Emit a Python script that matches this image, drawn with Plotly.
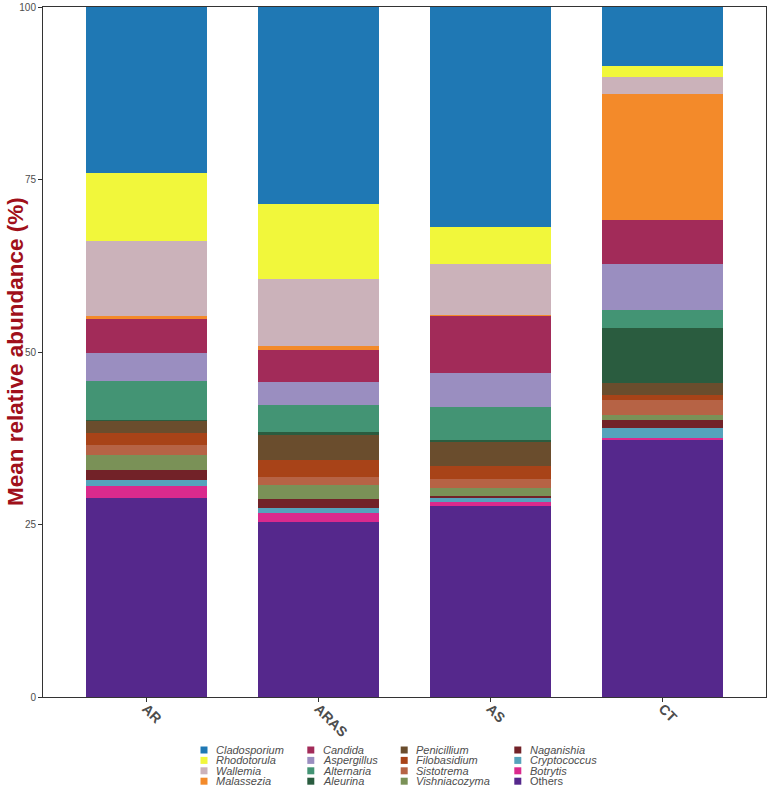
import plotly.graph_objects as go

# ---------------- data ----------------
groups = ["AR", "ARAS", "AS", "CT"]

# stack order, bottom -> top
genera = ["Others", "Botrytis", "Cryptococcus", "Naganishia", "Vishniacozyma",
          "Sistotrema", "Filobasidium", "Penicillium", "Aleurina", "Alternaria",
          "Aspergillus", "Candida", "Malassezia", "Wallemia", "Rhodotorula",
          "Cladosporium"]

Others        = [28.8, 25.3, 27.7, 37.3]
Botrytis      = [1.8, 1.35, 0.6, 0.2]
Cryptococcus  = [0.9, 0.7, 0.6, 1.5]
Naganishia    = [1.4, 1.3, 0.3, 1.15]
Vishniacozyma = [2.2, 2.1, 1.1, 0.65]
Sistotrema    = [1.4, 1.15, 1.25, 2.25]
Filobasidium  = [1.7, 2.4, 1.95, 0.75]
Penicillium   = [1.85, 3.65, 3.6, 1.75]
Aleurina      = [0.1, 0.4, 0.2, 8.0]
Alternaria    = [5.6, 4.0, 4.7, 2.6]
Aspergillus   = [4.15, 3.25, 5.0, 6.6]
Candida       = [4.9, 4.65, 8.25, 6.4]
Malassezia    = [0.4, 0.6, 0.15, 18.3]
Wallemia      = [10.85, 9.75, 7.35, 2.35]
Rhodotorula   = [9.9, 10.85, 5.4, 1.7]
Cladosporium  = [24.05, 28.55, 31.85, 8.5]

values = {
    "Others": Others, "Botrytis": Botrytis, "Cryptococcus": Cryptococcus,
    "Naganishia": Naganishia, "Vishniacozyma": Vishniacozyma,
    "Sistotrema": Sistotrema, "Filobasidium": Filobasidium,
    "Penicillium": Penicillium, "Aleurina": Aleurina, "Alternaria": Alternaria,
    "Aspergillus": Aspergillus, "Candida": Candida, "Malassezia": Malassezia,
    "Wallemia": Wallemia, "Rhodotorula": Rhodotorula,
    "Cladosporium": Cladosporium,
}

colors = {
    "Cladosporium": "#1F78B4", "Rhodotorula": "#F1F73B", "Wallemia": "#CBB2BA",
    "Malassezia": "#F38A2A", "Candida": "#A22B59", "Aspergillus": "#9A8EC0",
    "Alternaria": "#439474", "Aleurina": "#2A5C3F", "Penicillium": "#6A4D2D",
    "Filobasidium": "#A84318", "Sistotrema": "#B66345", "Vishniacozyma": "#7A9157",
    "Naganishia": "#722228", "Cryptococcus": "#55A3BC", "Botrytis": "#DA2A8D",
    "Others": "#55288C",
}

y_ticks = [0, 25, 50, 75, 100]

# ---------------- figure ----------------
W, H = 767, 790
ML, MR, MT, MB = 43, 1, 7, 93
PW, PH = W - ML - MR, H - MT - MB


def px_x(px):
    return (px - ML) / PW


def px_y(py):
    return (H - MB - py) / PH


fig = go.Figure()
for g in genera:
    fig.add_trace(go.Bar(
        x=groups, y=values[g], name=g,
        marker=dict(color=colors[g], line=dict(width=0)),
        width=0.7, showlegend=False,
    ))

fig.update_layout(
    width=W, height=H,
    margin=dict(l=ML, r=MR, t=MT, b=MB),
    barmode="stack",
    plot_bgcolor="white", paper_bgcolor="white",
    font=dict(family="Liberation Sans, Arial, sans-serif", color="#4D4D4D"),
)

fig.update_xaxes(
    range=[-0.6, 3.6], showline=True, mirror=True, linecolor="#333333",
    linewidth=1, ticks="outside", ticklen=4, tickcolor="#333333",
    tickangle=45, ticklabelstandoff=-7,
    tickfont=dict(size=14, color="#4D4D4D",
                  family="Liberation Sans, Arial, sans-serif", weight="bold"),
    showgrid=False, zeroline=False,
)
fig.update_yaxes(
    range=[0, 100], tickvals=y_ticks, ticktext=[str(v) for v in y_ticks],
    showline=True, mirror=True, linecolor="#333333", linewidth=1,
    ticks="outside", ticklen=4, tickcolor="#333333",
    tickfont=dict(size=10, color="#4D4D4D"),
    showgrid=False, zeroline=False,
)

annotations = [dict(
    text="<b>Mean relative abundance (%)</b>", textangle=-90,
    xref="paper", yref="paper", x=px_x(15), y=0.5,
    xanchor="center", yanchor="middle", showarrow=False,
    font=dict(size=22.5, color="#A0101A"),
)]
shapes = []

# manual legend (4 columns, column-major, top of stack first)
legend_order = list(reversed(genera))
col_x = [200.5, 307.3, 400.7, 514.3]
row_y = [750.0, 760.4, 770.8, 781.2]
sw = 7
for i, g in enumerate(legend_order):
    c, r = divmod(i, 4)
    x0, yc = col_x[c], row_y[r]
    shapes.append(dict(
        type="rect", xref="paper", yref="paper",
        x0=px_x(x0), x1=px_x(x0 + sw), y0=px_y(yc + sw / 2), y1=px_y(yc - sw / 2),
        fillcolor=colors[g], line=dict(width=0),
    ))
    label = g if g == "Others" else f"<i>{g}</i>"
    annotations.append(dict(
        text=label, xref="paper", yref="paper",
        x=px_x(x0 + 13.5), y=px_y(yc), xanchor="left", yanchor="middle",
        showarrow=False, font=dict(size=11, color="#4D4D4D"),
    ))

fig.update_layout(annotations=annotations, shapes=shapes)

fig.write_html(
    "out.html",
    config={"displayModeBar": False},
    post_script="document.body.style.margin='0';document.body.style.padding='0';",
)
